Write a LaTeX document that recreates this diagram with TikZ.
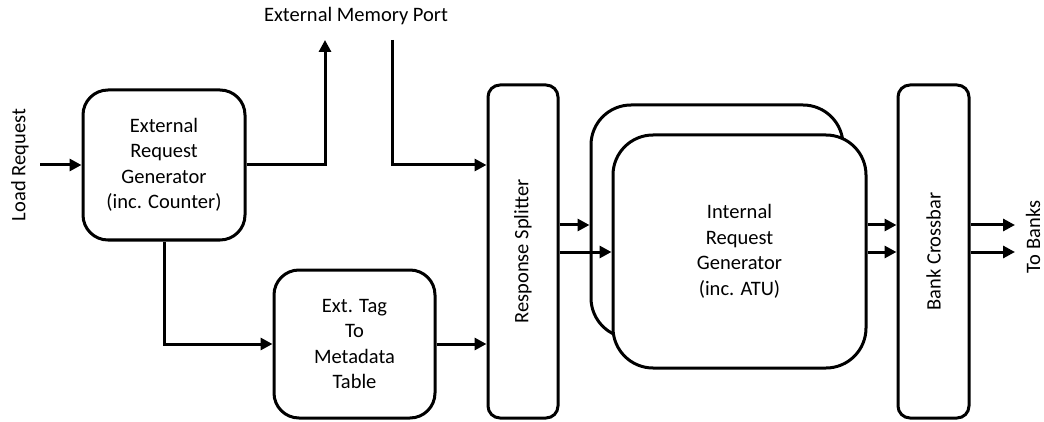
\documentclass[tikz,border=0pt]{standalone}
\usepackage{fontspec}
\usepackage{graphicx}
\setmainfont{Carlito}
\usetikzlibrary{arrows.meta}
\begin{document}
\begin{tikzpicture}[x=1pt,y=-1pt,
  txt/.style={font=\fontsize{20.5}{25.5}\selectfont},
  blk/.style={txt,draw,line width=3pt,inner sep=0pt,align=center},
  lbl/.style={txt,inner sep=0pt},
  arr/.style={line width=3pt,-{Triangle[length=12pt,width=12pt]}}]
\useasboundingbox (0,0) rectangle (1044,422);
% blocks
\node[blk,rounded corners=25pt,minimum width=162pt,minimum height=150pt] (erg) at (164,165) {External\\Request\\Generator\\(inc. Counter)};
\node[blk,rounded corners=25pt,minimum width=161pt,minimum height=148pt] (tag) at (354.5,344) {Ext. Tag\\To\\Metadata\\Table};
\node[blk,rounded corners=12pt,minimum width=70pt,minimum height=333pt] (rs) at (523,251.5) {\rotatebox{90}{Response Splitter}};
\node[blk,rounded corners=40pt,minimum width=252pt,minimum height=233pt] (back) at (717,221.5) {};
\node[blk,fill=white,rounded corners=40pt,minimum width=253pt,minimum height=233pt] (front) at (739.5,251.5) {Internal\\Request\\Generator\\(inc. ATU)};
\node[blk,rounded corners=12pt,minimum width=71pt,minimum height=333pt] (bc) at (933.5,251.5) {\rotatebox{90}{Bank Crossbar}};
% labels
\node[lbl,rotate=90] (lr) at (20,165) {Load Request};
\node[lbl] (emp) at (356,16) {External Memory Port};
\node[lbl,rotate=90] (tb) at (1033,237) {To Banks};
% coordinates
\coordinate (lrs) at (40,165);
\coordinate (up) at (325,40);
\coordinate (dn) at (392,40);
\coordinate (r1) at (0,225);
\coordinate (r2) at (0,252);
\coordinate (o1) at (1015,225);
\coordinate (o2) at (1015,252);
% connectors
\draw[arr] (lrs) -- (erg.west);
\draw[arr] (erg.east) -| (up);
\draw[arr] (dn) |- (rs.west |- erg.east);
\draw[arr] (erg.south) |- (tag.west);
\draw[arr] (tag.east) -- (rs.west |- tag.east);
\draw[arr] (rs.east |- r1) -- (back.west |- r1);
\draw[arr] (rs.east |- r2) -- (front.west |- r2);
\draw[arr] (front.east |- r1) -- (bc.west |- r1);
\draw[arr] (front.east |- r2) -- (bc.west |- r2);
\draw[arr] (bc.east |- r1) -- (o1);
\draw[arr] (bc.east |- r2) -- (o2);
\end{tikzpicture}
\end{document}
